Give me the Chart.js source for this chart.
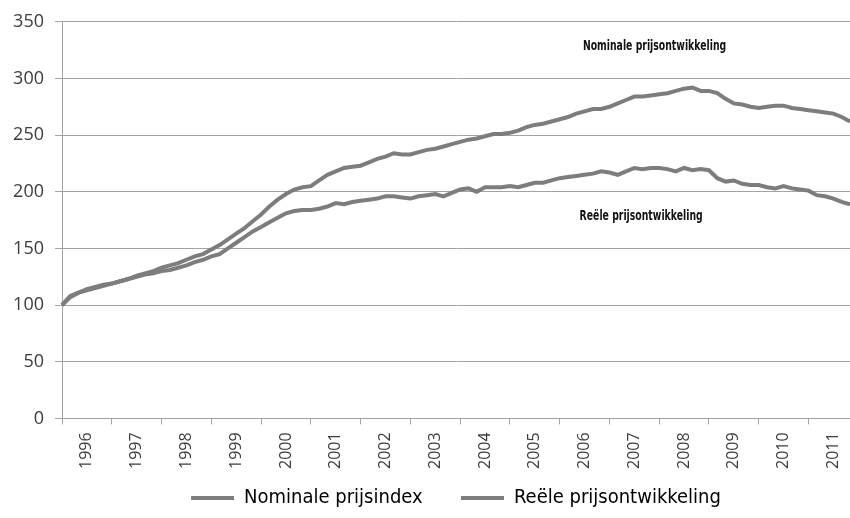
<!DOCTYPE html>
<html>
<head>
<meta charset="utf-8">
<script src="https://cdn.jsdelivr.net/npm/chart.js@4/dist/chart.umd.min.js"></script>
<style>
  html, body { margin: 0; padding: 0; background: #fff; }
  #wrap { width: 850px; height: 518px; }
</style>
</head>
<body>
<div id="wrap"><canvas id="prijsChart"></canvas></div>
<script>
// two-monthly points, 6 per year, 1996 - 2011
const years = [1996, 1997, 1998, 1999, 2000, 2001, 2002, 2003, 2004, 2005, 2006, 2007, 2008, 2009, 2010, 2011]
const perYear = 6
const yTicks = [0, 50, 100, 150, 200, 250, 300, 350]

const nominaal = [
  100, 108, 111, 114, 116, 118,
  119, 121, 123, 126, 128, 130,
  133, 135, 137, 140, 143, 145,
  149, 153, 158, 163, 168, 174,
  180, 187, 193, 198, 202, 204,
  205, 210, 215, 218, 221, 222,
  223, 226, 229, 231, 234, 233,
  233, 235, 237, 238, 240, 242,
  244, 246, 247, 249, 251, 251,
  252, 254, 257, 259, 260, 262,
  264, 266, 269, 271, 273, 273,
  275, 278, 281, 284, 284, 285,
  286, 287, 289, 291, 292, 289,
  289, 287, 282, 278, 277, 275,
  274, 275, 276, 276, 274, 273,
  272, 271, 270, 269, 266, 262
]

const reeel = [
  100, 107, 111, 113, 115, 117,
  119, 121, 123, 125, 127, 128,
  130, 131, 133, 135, 138, 140,
  143, 145, 150, 155, 160, 165,
  169, 173, 177, 181, 183, 184,
  184, 185, 187, 190, 189, 191,
  192, 193, 194, 196, 196, 195,
  194, 196, 197, 198, 196, 199,
  202, 203, 200, 204, 204, 204,
  205, 204, 206, 208, 208, 210,
  212, 213, 214, 215, 216, 218,
  217, 215, 218, 221, 220, 221,
  221, 220, 218, 221, 219, 220,
  219, 212, 209, 210, 207, 206,
  206, 204, 203, 205, 203, 202,
  201, 197, 196, 194, 191, 189
]

const labels = []
years.forEach((y) => {
  for (let m = 0; m < perYear; m++) labels.push(y + "-" + (m + 1))
})

const lineColor = "#7d7d7d"
const gridColor = "#a3a3a3"
const textColor = "#3c3c3c"

// condensed bold texts next to the lines
function squeezedText(ctx, text, x, y, sx) {
  ctx.save()
  ctx.translate(x, y)
  ctx.scale(sx, 1)
  ctx.fillText(text, 0, 0)
  ctx.restore()
}

const annotations = {
  id: "annotations",
  afterDatasetsDraw(chart) {
    const { ctx, scales } = chart
    ctx.save()
    ctx.fillStyle = "#111"
    ctx.font = "bold 14px 'DejaVu Sans', sans-serif"
    ctx.textBaseline = "middle"
    squeezedText(ctx, "Nominale prijsontwikkeling", scales.x.getPixelForValue(62.8), scales.y.getPixelForValue(328), 0.665)
    squeezedText(ctx, "Reële prijsontwikkeling", scales.x.getPixelForValue(62.4), scales.y.getPixelForValue(178), 0.665)
    ctx.restore()
  }
}

const ctx = document.getElementById("prijsChart")
new Chart(ctx, {
  type: "line",
  data: {
    labels: labels,
    datasets: [
      {
        label: "Nominale prijsindex",
        data: nominaal,
        borderColor: lineColor,
        backgroundColor: lineColor,
        borderWidth: 4,
        pointRadius: 0,
        tension: 0
      },
      {
        label: "Reële prijsontwikkeling",
        data: reeel,
        borderColor: lineColor,
        backgroundColor: lineColor,
        borderWidth: 4,
        pointRadius: 0,
        tension: 0
      }
    ]
  },
  options: {
    responsive: true,
    maintainAspectRatio: false,
    animation: false,
    layout: { padding: { top: 15, right: 0, left: 0, bottom: 0 } },
    plugins: {
      tooltip: { enabled: false },
      legend: {
        position: "bottom",
        fullSize: false,
        labels: {
          boxWidth: 43,
          boxHeight: 4,
          padding: 4,
          color: "#222",
          font: { family: "'DejaVu Sans Condensed', 'Open Sans', sans-serif", size: 20 },
          generateLabels(chart) {
            return chart.data.datasets.map((ds, i) => ({
              // trailing spaces keep the gap between the two items
              text: i === 0 ? ds.label + "      " : ds.label,
              fillStyle: lineColor,
              strokeStyle: lineColor,
              lineWidth: 0,
              datasetIndex: i
            }))
          }
        }
      }
    },
    scales: {
      x: {
        offset: false,
        afterFit(scale) {
          scale.paddingRight = 0
          scale.paddingLeft = 0
          scale.height += 7
        },
        grid: {
          drawOnChartArea: false,
          drawTicks: true,
          tickLength: 6,
          color: (c) => (c.index % perYear === 0 ? gridColor : "rgba(0,0,0,0)")
        },
        border: { color: gridColor },
        ticks: {
          autoSkip: false,
          minRotation: 90,
          maxRotation: 90,
          padding: 8,
          color: textColor,
          font: { family: "'Open Sans', sans-serif", size: 16 },
          callback: (val, i) => (i % perYear === 3 ? String(years[Math.floor(i / perYear)]) : "")
        }
      },
      y: {
        min: 0,
        max: 350,
        afterBuildTicks(scale) {
          scale.ticks = yTicks.map((v) => ({ value: v }))
        },
        afterFit(scale) {
          scale.width = 62
        },
        grid: { color: gridColor, tickLength: 7 },
        border: { color: gridColor },
        ticks: {
          padding: 11,
          color: textColor,
          font: { family: "'Open Sans', sans-serif", size: 18 }
        }
      }
    }
  },
  plugins: [annotations]
})
</script>
</body>
</html>
